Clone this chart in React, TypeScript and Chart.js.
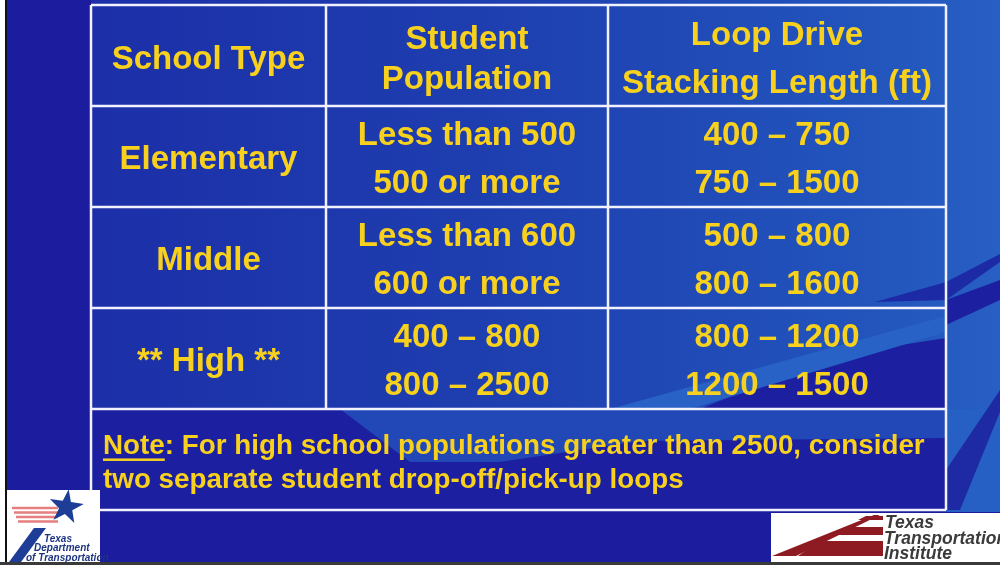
import React, { useEffect, useRef } from "react";
import { Chart, registerables } from "chart.js";

Chart.register(...registerables);

// ---------- data ----------
const headerSchool = ["School Type"];
const headerPopulation = ["Student", "Population"];
const headerStacking = ["Loop Drive", "Stacking Length (ft)"];
const schoolTypes = ["Elementary", "Middle", "** High **"];
const populationRanges = [
  ["Less than 500", "500 or more"],
  ["Less than 600", "600 or more"],
  ["400 – 800", "800 – 2500"],
];
const stackingLengths = [
  ["400 – 750", "750 – 1500"],
  ["500 – 800", "800 – 1600"],
  ["800 – 1200", "1200 – 1500"],
];
const noteKeyword = "Note";
const noteLines = [
  ": For high school populations greater than 2500, consider",
  "two separate student drop-off/pick-up loops",
];
const txdotLogoText = ["Texas", "Department", "of Transportation"];
const ttiLogoText = ["Texas", "Transportation", "Institute"];

// ---------- layout ----------
const COL_EDGES = [0, 235, 517, 855];
const ROW_COUNT = 5;
const YELLOW = "#f7d11e";
const FONT = "'Liberation Sans', Arial, sans-serif";

function poly(ctx: CanvasRenderingContext2D, pts: number[][], color: string) {
  ctx.beginPath();
  ctx.moveTo(pts[0][0], pts[0][1]);
  for (let i = 1; i < pts.length; i++) ctx.lineTo(pts[i][0], pts[i][1]);
  ctx.closePath();
  ctx.fillStyle = color;
  ctx.fill();
}

function drawBackground(chart: any) {
  const ctx: CanvasRenderingContext2D = chart.ctx;
  const W = chart.width;
  const H = chart.height;
  const { left } = chart.chartArea;
  const ys = chart.scales.y;
  const yNoteTop = ys.getPixelForValue(4);
  const yNoteBot = ys.getPixelForValue(5);
  ctx.save();
  ctx.fillStyle = "#1b1c9e";
  ctx.fillRect(0, 0, W, H);

  // textured lighter blue region
  const g = ctx.createLinearGradient(left, 0, W, 0);
  g.addColorStop(0, "#1c2fa8");
  g.addColorStop(0.45, "#1e3fb0");
  g.addColorStop(0.85, "#2254bc");
  g.addColorStop(1, "#285fc4");
  ctx.fillStyle = g;
  ctx.fillRect(left, 0, W - left, yNoteTop);
  // right strip below the table
  ctx.fillStyle = "#2660c4";
  ctx.fillRect(946, yNoteTop, W - 946, yNoteBot - yNoteTop + 2);

  const dark = "#1c1f9f";
  // dark wedge near right header area
  poly(ctx, [[875, 302], [946, 300], [1000, 262], [1000, 254], [946, 282]], "#1d2aa6");
  // lower right dark region of high row
  poly(ctx, [[700, yNoteTop], [946, yNoteTop], [946, 338], [830, 356]], dark);
  // light streak in high row
  poly(ctx, [[610, yNoteTop], [690, yNoteTop], [946, 332], [946, 316]], "#2862c6");

  // note row dark + light streak
  ctx.fillStyle = dark;
  ctx.fillRect(left, yNoteTop, 946 - left, yNoteBot - yNoteTop);
  poly(ctx, [[340, yNoteTop], [946, yNoteTop], [946, 438], [640, 441], [500, 462], [410, 462]], "#2148b6");
  // right strip diagonal shapes
  poly(ctx, [[946, 300], [1000, 280], [1000, 300], [946, 325]], dark);
  poly(ctx, [[946, 470], [1000, 390], [1000, 412], [960, 510], [946, 510]], "#1d2aa4");

  // left border white + black
  ctx.fillStyle = "#ffffff";
  ctx.fillRect(0, 0, 5, H);
  ctx.fillStyle = "#111111";
  ctx.fillRect(5, 0, 2, H);
  // bottom dark line
  ctx.fillStyle = "#3a3a3a";
  ctx.fillRect(0, H - 3, W, 3);
  ctx.restore();
}

function text(ctx: CanvasRenderingContext2D, s: string, x: number, yCenter: number, size: number, align: CanvasTextAlign = "center") {
  ctx.font = `bold ${size}px ${FONT}`;
  ctx.textAlign = align;
  ctx.textBaseline = "alphabetic";
  ctx.fillStyle = YELLOW;
  ctx.fillText(s, x, yCenter + size * 0.358);
}

function drawTable(chart: any) {
  const ctx: CanvasRenderingContext2D = chart.ctx;
  const xs = chart.scales.x;
  const ys = chart.scales.y;
  const X = (v: number) => xs.getPixelForValue(v);
  const Y = (v: number) => ys.getPixelForValue(v);
  ctx.save();

  // grid lines
  ctx.strokeStyle = "#f2f2ff";
  ctx.lineWidth = 2.5;
  ctx.beginPath();
  for (let r = 0; r <= ROW_COUNT; r++) {
    ctx.moveTo(X(COL_EDGES[0]), Y(r));
    ctx.lineTo(X(COL_EDGES[3]), Y(r));
  }
  ctx.moveTo(X(COL_EDGES[0]), Y(0));
  ctx.lineTo(X(COL_EDGES[0]), Y(ROW_COUNT));
  ctx.moveTo(X(COL_EDGES[3]), Y(0));
  ctx.lineTo(X(COL_EDGES[3]), Y(ROW_COUNT));
  for (let c = 1; c < 3; c++) {
    ctx.moveTo(X(COL_EDGES[c]), Y(0));
    ctx.lineTo(X(COL_EDGES[c]), Y(ROW_COUNT - 1));
  }
  ctx.stroke();

  const cx = (c: number) => (X(COL_EDGES[c]) + X(COL_EDGES[c + 1])) / 2;
  const cy = (r: number) => Y(r + 0.5);
  const S = 33;

  // header
  text(ctx, headerSchool[0], cx(0), cy(0) + 1.5, S);
  text(ctx, headerPopulation[0], cx(1), cy(0) - 18.5, S);
  text(ctx, headerPopulation[1], cx(1), cy(0) + 21.5, S);
  text(ctx, headerStacking[0], cx(2), cy(0) - 22.5, S);
  text(ctx, headerStacking[1], cx(2), cy(0) + 25.5, S);

  // body
  for (let i = 0; i < schoolTypes.length; i++) {
    const r = i + 1;
    text(ctx, schoolTypes[i], cx(0), cy(r) + 1, S);
    text(ctx, populationRanges[i][0], cx(1), cy(r) - 23, S);
    text(ctx, populationRanges[i][1], cx(1), cy(r) + 25, S);
    text(ctx, stackingLengths[i][0], cx(2), cy(r) - 23, S);
    text(ctx, stackingLengths[i][1], cx(2), cy(r) + 25, S);
  }

  // note
  const NS = 27.8;
  const nx = X(COL_EDGES[0]) + 12;
  const ny = cy(4);
  text(ctx, noteKeyword, nx, ny - 15, NS, "left");
  ctx.font = `bold ${NS}px ${FONT}`;
  const kw = ctx.measureText(noteKeyword).width;
  ctx.fillStyle = YELLOW;
  ctx.fillRect(nx, ny - 15 + NS * 0.358 + 4, kw, 2.5);
  text(ctx, noteLines[0], nx + kw, ny - 15, NS, "left");
  text(ctx, noteLines[1], nx, ny + 19, NS, "left");

  drawLogos(ctx, chart.width, chart.height);
  ctx.restore();
}

function drawLogos(ctx: CanvasRenderingContext2D, W: number, H: number) {
  // TxDOT logo
  ctx.fillStyle = "#ffffff";
  ctx.fillRect(7, 490, 93, H - 3 - 490);
  ctx.strokeStyle = "#e57f7f";
  ctx.lineWidth = 2.4;
  for (let i = 0; i < 4; i++) {
    const y = 508 + i * 4.5;
    ctx.beginPath();
    ctx.moveTo(12 + i * 2, y);
    ctx.lineTo(58, y);
    ctx.stroke();
  }
  // star
  const sx = 66, sy = 507, R = 18, r = 7;
  ctx.beginPath();
  for (let i = 0; i < 10; i++) {
    const a = -Math.PI / 2 + (i * Math.PI) / 5 + 0.15;
    const rr = i % 2 === 0 ? R : r;
    const px = sx + rr * Math.cos(a);
    const py = sy + rr * Math.sin(a);
    if (i === 0) ctx.moveTo(px, py);
    else ctx.lineTo(px, py);
  }
  ctx.closePath();
  ctx.fillStyle = "#1d3d96";
  ctx.fill();
  poly(ctx, [[9, 562], [21, 562], [46, 528], [34, 528]], "#1d3d96");
  ctx.fillStyle = "#1d3580";
  ctx.textAlign = "left";
  ctx.textBaseline = "alphabetic";
  ctx.font = `italic bold 10px ${FONT}`;
  ctx.fillText(txdotLogoText[0], 44, 542);
  ctx.fillText(txdotLogoText[1], 34, 551);
  ctx.fillText(txdotLogoText[2], 26, 561);

  // TTI logo
  ctx.fillStyle = "#ffffff";
  ctx.fillRect(771, 513, W - 771, H - 3 - 513);
  const red = "#8e1b22";
  poly(ctx, [[772, 556], [796, 556], [880, 515], [874, 515]], red);
  poly(ctx, [[866, 516], [883, 516], [883, 520], [858, 520]], red);
  poly(ctx, [[846, 527], [883, 527], [883, 535], [830, 535]], red);
  poly(ctx, [[820, 541], [883, 541], [883, 556], [798, 556]], red);
  ctx.fillStyle = "#3b3b3b";
  ctx.font = `italic bold 17.5px ${FONT}`;
  ctx.fillText(ttiLogoText[0], 885, 528);
  ctx.fillText(ttiLogoText[1], 884, 544);
  ctx.fillText(ttiLogoText[2], 884, 559);
}

export default function App() {
  const ref = useRef<HTMLCanvasElement>(null);
  useEffect(() => {
    document.body.style.margin = "0";
    const canvas = ref.current;
    if (!canvas) return;
    const tablePlugin = {
      id: "tablePlugin",
      beforeDraw(chart: any) {
        drawBackground(chart);
      },
      afterDraw(chart: any) {
        drawTable(chart);
      },
    };
    const chart = new Chart(canvas, {
      type: "scatter",
      data: { datasets: [] },
      options: {
        animation: false,
        responsive: false,
        devicePixelRatio: 1,
        layout: { padding: { left: 91, top: 5, right: 54, bottom: 55 } },
        plugins: { legend: { display: false }, tooltip: { enabled: false } },
        scales: {
          x: { type: "linear", min: COL_EDGES[0], max: COL_EDGES[3], display: false },
          y: { type: "linear", min: 0, max: ROW_COUNT, reverse: true, display: false },
        },
      },
      plugins: [tablePlugin],
    });
    return () => chart.destroy();
  }, []);
  return <canvas ref={ref} width={1000} height={565} style={{ display: "block" }} />;
}
